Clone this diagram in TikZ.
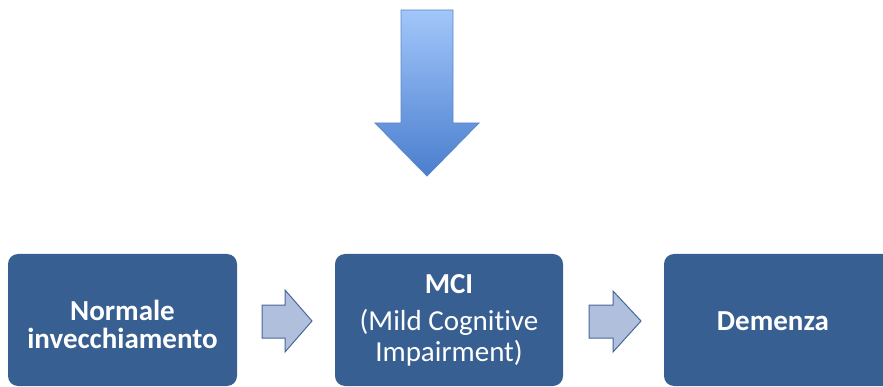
\documentclass[tikz,border=0pt]{standalone}
\usepackage{fontspec}
\setmainfont[Ligatures=NoCommon]{Carlito}
\definecolor{boxblue}{HTML}{385F91}
\definecolor{smallfill}{HTML}{B0C0DC}
\definecolor{smalledge}{HTML}{48689A}
\definecolor{bigtop}{HTML}{A2C6FA}
\definecolor{bigbot}{HTML}{4A7ECE}
\definecolor{bigedge}{HTML}{5A88C8}
\tikzset{
  x=1pt, y=-1pt,
  stage/.style={fill=boxblue, rounded corners=10pt},
  stagetext/.style={text=white, align=center, font=\fontsize{29}{28}\selectfont},
  stepshape/.style={fill=smallfill, draw=smalledge, line width=1pt, line join=miter},
}
\begin{document}
\begin{tikzpicture}
\useasboundingbox (0,0) rectangle (883,387);
\clip (0,0) rectangle (883,387);

% big downward arrow with vertical gradient
\path[top color=bigtop, bottom color=bigbot, draw=bigedge, line width=0.8pt]
  (401,10) -- (453,10) -- (453,123) -- (479,123) -- (427,176) -- (375,123) -- (401,123) -- cycle;

% stage boxes
\path[stage] (8,254) rectangle (237,386);
\path[stage] (335,254) rectangle (563,386);
\path[stage] (664,254) rectangle (900,386);

\node[stagetext] (normale) at (122.5,324) {\bfseries Normale\\\bfseries invecchiamento};
\node[stagetext, font=\fontsize{29}{31}\selectfont] (mci) at (449,320) {\bfseries MCI\\[6pt](Mild Cognitive\\Impairment)};
\node[stagetext] (demenza) at (773,321) {\bfseries Demenza};

% step arrows between stages
\path[stepshape] (262,305) -- (285,305) -- (285,290) -- (312,321) -- (285,352) -- (285,338) -- (262,338) -- cycle;
\path[stepshape] (589,305) -- (613,305) -- (613,291) -- (641,321) -- (613,352) -- (613,338) -- (589,338) -- cycle;
\end{tikzpicture}
\end{document}
